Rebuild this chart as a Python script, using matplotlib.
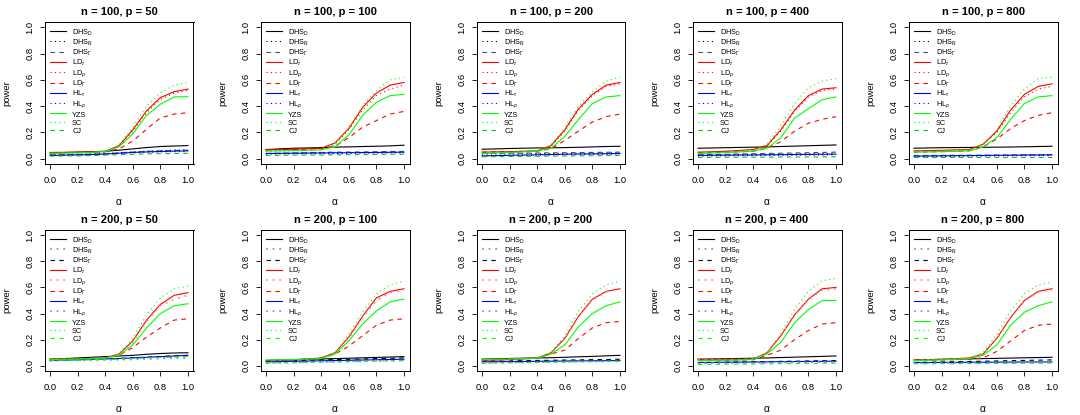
import matplotlib
matplotlib.use("Agg")
import matplotlib.pyplot as plt

plt.rcParams['font.family'] = ['Liberation Sans', 'DejaVu Sans']
plt.rcParams['mathtext.fontset'] = 'custom'
plt.rcParams['mathtext.rm'] = 'Liberation Sans'
plt.rcParams['mathtext.it'] = 'Liberation Sans:italic'

alpha = [0.0, 0.1, 0.2, 0.3, 0.4, 0.5, 0.6, 0.7, 0.8, 0.9, 1.0]
x_ticks = [0.0, 0.2, 0.4, 0.6, 0.8, 1.0]
y_ticks = [0.0, 0.2, 0.4, 0.6, 0.8, 1.0]

series_labels = [r'DHS$_{\mathrm{D}}$', r'DHS$_{\mathrm{R}}$', r'DHS$_{\Gamma}$',
                 r'LD$_{\tau}$', r'LD$_{\rho}$', r'LD$_{\Gamma}$',
                 r'HL$_{\tau}$', r'HL$_{\rho}$', 'YZS', 'SC', 'CJ']

n_values = [100, 100, 100, 100, 100, 200, 200, 200, 200, 200]
p_values = [50, 100, 200, 400, 800, 50, 100, 200, 400, 800]

# each panel: rows in the order of series_labels, columns follow alpha
power_n100_p50 = [
    [0.045, 0.047, 0.050, 0.053, 0.057, 0.065, 0.075, 0.085, 0.093, 0.097, 0.100],
    [0.030, 0.032, 0.034, 0.036, 0.040, 0.046, 0.052, 0.058, 0.062, 0.066, 0.068],
    [0.030, 0.031, 0.033, 0.035, 0.038, 0.044, 0.050, 0.056, 0.060, 0.063, 0.065],
    [0.048, 0.049, 0.050, 0.052, 0.055, 0.100, 0.220, 0.365, 0.465, 0.510, 0.530],
    [0.045, 0.046, 0.047, 0.049, 0.052, 0.095, 0.210, 0.350, 0.450, 0.500, 0.520],
    [0.046, 0.047, 0.048, 0.050, 0.053, 0.075, 0.135, 0.225, 0.310, 0.340, 0.350],
    [0.025, 0.027, 0.029, 0.032, 0.036, 0.042, 0.048, 0.052, 0.055, 0.058, 0.060],
    [0.024, 0.026, 0.028, 0.030, 0.034, 0.040, 0.045, 0.049, 0.052, 0.054, 0.055],
    [0.042, 0.043, 0.045, 0.048, 0.055, 0.090, 0.190, 0.330, 0.415, 0.470, 0.472],
    [0.040, 0.042, 0.044, 0.048, 0.056, 0.105, 0.240, 0.400, 0.500, 0.560, 0.580],
    [0.020, 0.021, 0.022, 0.024, 0.027, 0.031, 0.034, 0.037, 0.039, 0.040, 0.041],
]
power_n100_p100 = [
    [0.070, 0.075, 0.080, 0.082, 0.085, 0.088, 0.090, 0.093, 0.095, 0.098, 0.103],
    [0.040, 0.041, 0.042, 0.044, 0.045, 0.046, 0.047, 0.048, 0.049, 0.050, 0.051],
    [0.040, 0.042, 0.044, 0.046, 0.048, 0.050, 0.051, 0.052, 0.053, 0.055, 0.056],
    [0.068, 0.070, 0.073, 0.076, 0.080, 0.120, 0.230, 0.390, 0.500, 0.560, 0.580],
    [0.066, 0.068, 0.071, 0.074, 0.078, 0.110, 0.220, 0.370, 0.480, 0.530, 0.560],
    [0.066, 0.068, 0.070, 0.073, 0.077, 0.095, 0.160, 0.240, 0.290, 0.340, 0.360],
    [0.040, 0.041, 0.042, 0.043, 0.044, 0.045, 0.046, 0.047, 0.048, 0.049, 0.050],
    [0.035, 0.036, 0.037, 0.038, 0.039, 0.040, 0.041, 0.042, 0.043, 0.044, 0.045],
    [0.058, 0.060, 0.062, 0.064, 0.068, 0.090, 0.180, 0.330, 0.430, 0.480, 0.490],
    [0.055, 0.057, 0.060, 0.063, 0.068, 0.110, 0.240, 0.400, 0.520, 0.600, 0.620],
    [0.025, 0.026, 0.027, 0.028, 0.029, 0.030, 0.031, 0.032, 0.033, 0.034, 0.035],
]
power_n100_p200 = [
    [0.072, 0.075, 0.078, 0.080, 0.082, 0.083, 0.085, 0.087, 0.090, 0.093, 0.095],
    [0.035, 0.036, 0.037, 0.038, 0.039, 0.040, 0.041, 0.042, 0.043, 0.044, 0.045],
    [0.040, 0.041, 0.042, 0.043, 0.044, 0.045, 0.046, 0.047, 0.048, 0.049, 0.050],
    [0.050, 0.052, 0.054, 0.057, 0.060, 0.100, 0.220, 0.380, 0.490, 0.560, 0.580],
    [0.048, 0.050, 0.052, 0.055, 0.058, 0.095, 0.210, 0.370, 0.480, 0.550, 0.570],
    [0.050, 0.052, 0.054, 0.056, 0.058, 0.075, 0.140, 0.210, 0.280, 0.320, 0.340],
    [0.022, 0.024, 0.026, 0.028, 0.030, 0.032, 0.034, 0.036, 0.037, 0.038, 0.040],
    [0.020, 0.022, 0.024, 0.025, 0.027, 0.029, 0.030, 0.031, 0.032, 0.034, 0.035],
    [0.040, 0.043, 0.047, 0.052, 0.058, 0.080, 0.170, 0.300, 0.420, 0.470, 0.480],
    [0.045, 0.048, 0.052, 0.056, 0.062, 0.105, 0.240, 0.400, 0.510, 0.590, 0.620],
    [0.015, 0.016, 0.017, 0.018, 0.019, 0.020, 0.021, 0.022, 0.023, 0.024, 0.025],
]
power_n100_p400 = [
    [0.080, 0.082, 0.084, 0.086, 0.088, 0.090, 0.093, 0.096, 0.099, 0.102, 0.105],
    [0.030, 0.031, 0.032, 0.033, 0.034, 0.035, 0.036, 0.037, 0.038, 0.039, 0.040],
    [0.030, 0.032, 0.034, 0.036, 0.038, 0.040, 0.042, 0.044, 0.046, 0.048, 0.050],
    [0.050, 0.053, 0.057, 0.063, 0.070, 0.100, 0.220, 0.370, 0.480, 0.530, 0.540],
    [0.048, 0.051, 0.055, 0.061, 0.068, 0.095, 0.210, 0.360, 0.470, 0.520, 0.530],
    [0.045, 0.047, 0.050, 0.053, 0.057, 0.080, 0.130, 0.210, 0.270, 0.300, 0.320],
    [0.025, 0.026, 0.027, 0.028, 0.029, 0.030, 0.031, 0.032, 0.033, 0.034, 0.035],
    [0.020, 0.021, 0.022, 0.023, 0.024, 0.025, 0.026, 0.027, 0.028, 0.029, 0.030],
    [0.040, 0.043, 0.047, 0.052, 0.058, 0.080, 0.160, 0.310, 0.380, 0.450, 0.470],
    [0.045, 0.048, 0.052, 0.057, 0.064, 0.110, 0.250, 0.420, 0.540, 0.590, 0.610],
    [0.010, 0.010, 0.011, 0.011, 0.012, 0.012, 0.013, 0.013, 0.014, 0.014, 0.015],
]
power_n100_p800 = [
    [0.080, 0.082, 0.084, 0.085, 0.086, 0.087, 0.088, 0.089, 0.091, 0.093, 0.095],
    [0.020, 0.021, 0.022, 0.023, 0.024, 0.025, 0.026, 0.027, 0.028, 0.029, 0.030],
    [0.025, 0.025, 0.026, 0.026, 0.027, 0.027, 0.028, 0.028, 0.029, 0.029, 0.030],
    [0.060, 0.062, 0.064, 0.067, 0.070, 0.110, 0.210, 0.370, 0.490, 0.550, 0.570],
    [0.058, 0.060, 0.062, 0.065, 0.068, 0.105, 0.200, 0.350, 0.470, 0.530, 0.550],
    [0.050, 0.052, 0.054, 0.056, 0.060, 0.090, 0.150, 0.230, 0.290, 0.330, 0.350],
    [0.020, 0.021, 0.022, 0.023, 0.024, 0.025, 0.026, 0.027, 0.028, 0.029, 0.030],
    [0.015, 0.016, 0.017, 0.018, 0.019, 0.020, 0.021, 0.022, 0.023, 0.024, 0.025],
    [0.050, 0.052, 0.054, 0.056, 0.060, 0.090, 0.160, 0.300, 0.420, 0.470, 0.480],
    [0.055, 0.057, 0.060, 0.063, 0.068, 0.110, 0.220, 0.400, 0.530, 0.610, 0.620],
    [0.010, 0.010, 0.010, 0.010, 0.010, 0.010, 0.010, 0.010, 0.010, 0.010, 0.010],
]
power_n200_p50 = [
    [0.050, 0.055, 0.060, 0.065, 0.070, 0.075, 0.080, 0.088, 0.094, 0.098, 0.100],
    [0.040, 0.042, 0.044, 0.046, 0.048, 0.052, 0.056, 0.060, 0.064, 0.067, 0.070],
    [0.040, 0.043, 0.046, 0.049, 0.052, 0.056, 0.061, 0.066, 0.071, 0.076, 0.080],
    [0.050, 0.052, 0.054, 0.057, 0.060, 0.090, 0.190, 0.350, 0.470, 0.540, 0.560],
    [0.048, 0.050, 0.052, 0.055, 0.058, 0.085, 0.180, 0.340, 0.460, 0.510, 0.540],
    [0.050, 0.052, 0.054, 0.056, 0.058, 0.080, 0.140, 0.220, 0.290, 0.350, 0.360],
    [0.040, 0.043, 0.046, 0.049, 0.052, 0.056, 0.060, 0.065, 0.070, 0.075, 0.080],
    [0.040, 0.041, 0.042, 0.043, 0.044, 0.046, 0.048, 0.052, 0.055, 0.058, 0.060],
    [0.048, 0.050, 0.052, 0.055, 0.058, 0.080, 0.160, 0.290, 0.400, 0.460, 0.475],
    [0.045, 0.048, 0.051, 0.055, 0.060, 0.095, 0.210, 0.390, 0.520, 0.590, 0.610],
    [0.040, 0.042, 0.044, 0.046, 0.048, 0.052, 0.056, 0.060, 0.064, 0.067, 0.070],
]
power_n200_p100 = [
    [0.040, 0.043, 0.046, 0.049, 0.052, 0.055, 0.058, 0.061, 0.064, 0.067, 0.070],
    [0.030, 0.032, 0.034, 0.036, 0.038, 0.040, 0.042, 0.044, 0.046, 0.048, 0.050],
    [0.035, 0.037, 0.040, 0.042, 0.045, 0.047, 0.050, 0.052, 0.055, 0.057, 0.060],
    [0.040, 0.043, 0.047, 0.052, 0.060, 0.100, 0.220, 0.380, 0.520, 0.570, 0.590],
    [0.038, 0.041, 0.045, 0.050, 0.058, 0.095, 0.210, 0.370, 0.500, 0.560, 0.580],
    [0.040, 0.043, 0.047, 0.052, 0.060, 0.090, 0.150, 0.230, 0.310, 0.350, 0.360],
    [0.030, 0.032, 0.034, 0.036, 0.038, 0.040, 0.042, 0.044, 0.046, 0.048, 0.050],
    [0.020, 0.022, 0.024, 0.026, 0.028, 0.030, 0.032, 0.034, 0.036, 0.038, 0.040],
    [0.045, 0.046, 0.048, 0.051, 0.056, 0.090, 0.190, 0.320, 0.420, 0.490, 0.510],
    [0.042, 0.044, 0.047, 0.051, 0.058, 0.100, 0.240, 0.410, 0.550, 0.620, 0.650],
    [0.020, 0.022, 0.024, 0.026, 0.028, 0.030, 0.032, 0.034, 0.036, 0.038, 0.040],
]
power_n200_p200 = [
    [0.050, 0.053, 0.056, 0.058, 0.060, 0.062, 0.065, 0.069, 0.072, 0.076, 0.080],
    [0.030, 0.031, 0.032, 0.033, 0.034, 0.035, 0.036, 0.037, 0.038, 0.039, 0.040],
    [0.035, 0.036, 0.038, 0.039, 0.041, 0.042, 0.044, 0.045, 0.047, 0.048, 0.050],
    [0.040, 0.043, 0.047, 0.052, 0.060, 0.100, 0.210, 0.380, 0.510, 0.570, 0.590],
    [0.038, 0.041, 0.045, 0.050, 0.058, 0.098, 0.205, 0.375, 0.505, 0.565, 0.590],
    [0.050, 0.052, 0.054, 0.056, 0.060, 0.090, 0.120, 0.210, 0.290, 0.330, 0.340],
    [0.030, 0.031, 0.032, 0.033, 0.034, 0.035, 0.036, 0.037, 0.038, 0.039, 0.040],
    [0.020, 0.022, 0.023, 0.025, 0.026, 0.028, 0.029, 0.031, 0.032, 0.034, 0.035],
    [0.048, 0.050, 0.052, 0.055, 0.058, 0.090, 0.160, 0.300, 0.400, 0.460, 0.490],
    [0.045, 0.048, 0.051, 0.055, 0.060, 0.100, 0.230, 0.420, 0.550, 0.620, 0.650],
    [0.020, 0.022, 0.023, 0.025, 0.026, 0.028, 0.029, 0.031, 0.032, 0.034, 0.035],
]
power_n200_p400 = [
    [0.050, 0.052, 0.054, 0.056, 0.058, 0.060, 0.063, 0.066, 0.069, 0.072, 0.075],
    [0.020, 0.021, 0.022, 0.023, 0.024, 0.025, 0.026, 0.027, 0.028, 0.029, 0.030],
    [0.025, 0.026, 0.028, 0.029, 0.031, 0.032, 0.034, 0.035, 0.037, 0.038, 0.040],
    [0.050, 0.050, 0.050, 0.050, 0.052, 0.100, 0.230, 0.390, 0.510, 0.590, 0.600],
    [0.048, 0.048, 0.048, 0.049, 0.051, 0.098, 0.225, 0.385, 0.505, 0.580, 0.590],
    [0.040, 0.041, 0.042, 0.044, 0.046, 0.080, 0.120, 0.200, 0.270, 0.320, 0.330],
    [0.025, 0.026, 0.027, 0.028, 0.029, 0.030, 0.031, 0.032, 0.033, 0.034, 0.035],
    [0.020, 0.021, 0.022, 0.023, 0.024, 0.025, 0.026, 0.027, 0.028, 0.029, 0.030],
    [0.040, 0.041, 0.042, 0.044, 0.048, 0.090, 0.180, 0.330, 0.430, 0.500, 0.500],
    [0.042, 0.043, 0.045, 0.048, 0.053, 0.100, 0.250, 0.430, 0.570, 0.650, 0.670],
    [0.010, 0.011, 0.012, 0.013, 0.014, 0.015, 0.016, 0.017, 0.018, 0.019, 0.020],
]
power_n200_p800 = [
    [0.045, 0.047, 0.049, 0.051, 0.053, 0.055, 0.057, 0.059, 0.061, 0.063, 0.065],
    [0.020, 0.021, 0.022, 0.023, 0.024, 0.025, 0.026, 0.027, 0.028, 0.029, 0.030],
    [0.025, 0.027, 0.029, 0.031, 0.033, 0.035, 0.037, 0.039, 0.041, 0.043, 0.045],
    [0.045, 0.047, 0.050, 0.054, 0.060, 0.090, 0.210, 0.370, 0.500, 0.570, 0.590],
    [0.043, 0.045, 0.048, 0.052, 0.058, 0.088, 0.205, 0.365, 0.495, 0.565, 0.580],
    [0.040, 0.042, 0.044, 0.047, 0.050, 0.060, 0.110, 0.190, 0.270, 0.310, 0.320],
    [0.025, 0.025, 0.026, 0.026, 0.027, 0.027, 0.028, 0.028, 0.029, 0.029, 0.030],
    [0.020, 0.021, 0.022, 0.023, 0.024, 0.025, 0.026, 0.027, 0.028, 0.029, 0.030],
    [0.040, 0.042, 0.045, 0.049, 0.055, 0.080, 0.160, 0.310, 0.410, 0.460, 0.490],
    [0.042, 0.044, 0.047, 0.051, 0.057, 0.100, 0.240, 0.420, 0.550, 0.620, 0.640],
    [0.015, 0.015, 0.016, 0.016, 0.017, 0.017, 0.018, 0.018, 0.019, 0.019, 0.020],
]

panels = [power_n100_p50, power_n100_p100, power_n100_p200, power_n100_p400, power_n100_p800,
          power_n200_p50, power_n200_p100, power_n200_p200, power_n200_p400, power_n200_p800]

DOT = (0, (1, 3))
DASH = (0, (4, 4))
style_row1 = [
    ('#000000', '-', 0.8), ('#000000', DOT, 0.8), ('#4d4d4d', DASH, 0.8),
    ('#ff0000', '-', 0.8), ('#ff0000', DOT, 0.8), ('#ff0000', DASH, 0.8),
    ('#0000ff', '-', 0.8), ('#0000ff', DOT, 0.8),
    ('#00ff00', '-', 0.8), ('#00ff00', DOT, 0.8), ('#00cc00', DASH, 0.8),
]
style_row2 = [
    ('#000000', '-', 0.8), ('#8c8c8c', DOT, 1.2), ('#000000', DASH, 0.8),
    ('#ff0000', '-', 0.8), ('#ff8080', DOT, 1.2), ('#ff0000', DASH, 0.8),
    ('#0000ff', '-', 0.8), ('#8080ff', DOT, 1.2),
    ('#00ff00', '-', 0.8), ('#00ff00', DOT, 0.8), ('#00ff00', DASH, 0.8),
]

W, H = 1080, 415
fig = plt.figure(figsize=(W / 100, H / 100), dpi=100)

ax_w = 149
row_top = [22, 230]
row_h = [142, 141]

for k, data in enumerate(panels):
    row, col = divmod(k, 5)
    left = 216 * col + 44.5
    top = row_top[row]
    ax_h = row_h[row]
    ax = fig.add_axes([left / W, (H - top - ax_h) / H, ax_w / W, ax_h / H])
    styles = style_row1 if row == 0 else style_row2
    for label, vals, (c, ls, lw) in zip(series_labels, data, styles):
        ax.plot(alpha, vals, color=c, linestyle=ls, linewidth=lw, label=label)
    ax.set_xlim(-0.04, 1.04)
    ax.set_ylim(-0.04, 1.04)
    ax.set_xticks(x_ticks)
    ax.set_yticks(y_ticks)
    ax.set_xticklabels([f'{v:.1f}' for v in x_ticks])
    ax.set_yticklabels([f'{v:.1f}' for v in y_ticks], rotation=90, va='center')
    ax.tick_params(direction='out', length=3.6, width=0.6, labelsize=6.8,
                   colors='#000000')
    ax.tick_params(axis='x', pad=5.2)
    ax.tick_params(axis='y', pad=3.8)
    for s in ax.spines.values():
        s.set_linewidth(0.7)
    ax.text(0.5, 1.072, f'n = {n_values[k]}, p = {p_values[k]}', transform=ax.transAxes,
            ha='center', va='center', fontsize=8.0, fontweight='bold')
    ax.set_xlabel('α', fontsize=7.5)
    ax.set_ylabel('power', fontsize=6.8)
    ax.xaxis.set_label_coords(0.5, -0.235)
    ax.yaxis.set_label_coords(-0.225, 0.5)
    ax.legend(loc='upper left', bbox_to_anchor=(0.03, 0.972), frameon=False,
              fontsize=5.3, handlelength=2.1, handleheight=1.22, handletextpad=0.85,
              labelspacing=0.0, borderaxespad=0.0, borderpad=0.2)

fig.savefig('out.png', dpi=100)
